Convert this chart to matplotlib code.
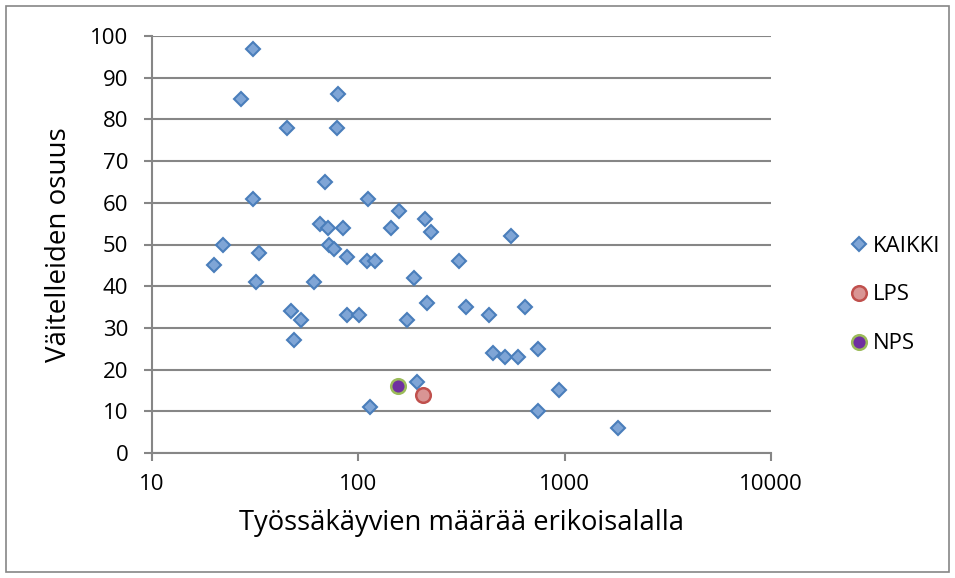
import matplotlib.pyplot as plt
from matplotlib.patches import Rectangle

# KAIKKI: number of workers in the specialty vs. share with doctorate (%)
kaikki_x = [31, 27, 80, 45, 79, 69, 31, 111, 157, 210, 225, 65, 71, 84, 144,
            22, 72, 76, 33, 20, 88, 110, 121, 307, 187, 32, 61, 214, 334, 641,
            428, 47, 53, 88, 101, 173, 49, 451, 511, 596, 741, 193, 935, 114,
            741, 1807, 551]
kaikki_y = [97, 85, 86, 78, 78, 65, 61, 61, 58, 56, 53, 55, 54, 54, 54,
            50, 50, 49, 48, 45, 47, 46, 46, 46, 42, 41, 41, 36, 35, 35,
            33, 34, 32, 33, 33, 32, 27, 24, 23, 23, 25, 17, 15, 11,
            10, 6, 52]
lps_x = [205]
lps_y = [14]
nps_x = [155]
nps_y = [16]

y_ticks = list(range(0, 101, 10))
x_ticks = [10, 100, 1000, 10000]

plt.rcParams['font.family'] = ['Open Sans', 'DejaVu Sans']

fig = plt.figure(figsize=(9.55, 5.78), dpi=100)
ax = fig.add_axes([152 / 955, 1 - 453 / 578, (771 - 152) / 955, (453 - 36) / 578])

ax.plot(kaikki_x, kaikki_y, linestyle='none', marker='D', markersize=7,
        markerfacecolor='#7FA5D6', markeredgecolor='#4A7EBB', markeredgewidth=1.5,
        label='KAIKKI', zorder=3)
ax.plot(lps_x, lps_y, linestyle='none', marker='o', markersize=10.5,
        markerfacecolor='#D99594', markeredgecolor='#C0504D', markeredgewidth=1.8,
        label='LPS', zorder=4)
ax.plot(nps_x, nps_y, linestyle='none', marker='o', markersize=10.5,
        markerfacecolor='#7030A0', markeredgecolor='#9BBB59', markeredgewidth=1.8,
        label='NPS', zorder=4)

ax.set_xscale('log')
ax.set_xlim(10, 10000)
ax.set_ylim(0, 100)
ax.set_xticks(x_ticks)
ax.set_xticklabels([str(t) for t in x_ticks])
ax.minorticks_off()
ax.set_yticks(y_ticks)

grey = '#868686'
ax.yaxis.grid(True, color=grey, linewidth=1.5)
ax.set_axisbelow(True)
for side in ['top', 'right']:
    ax.spines[side].set_visible(False)
for side in ['left', 'bottom']:
    ax.spines[side].set_color(grey)
    ax.spines[side].set_linewidth(1.5)
ax.tick_params(axis='both', colors=grey, width=1.5, length=6, labelsize=16,
               labelcolor='black')
ax.tick_params(axis='y', pad=11)
ax.tick_params(axis='x', pad=9)

ax.set_xlabel('Työssäkäyvien määrää erikoisalalla', fontsize=19.7, labelpad=10)
ax.set_ylabel('Väitelleiden osuus', fontsize=20, labelpad=12)

fig.legend(loc='center left', bbox_to_anchor=(838 / 955, 1 - 295 / 578),
           frameon=False, fontsize=16, labelspacing=1.25, handletextpad=0.05,
           handlelength=1.1, borderaxespad=0)

fig.patches.append(Rectangle((6 / 955, 6 / 578), 943 / 955, 566 / 578,
                             transform=fig.transFigure, fill=False,
                             edgecolor=grey, linewidth=1.2))

fig.savefig('out.png', dpi=100)
